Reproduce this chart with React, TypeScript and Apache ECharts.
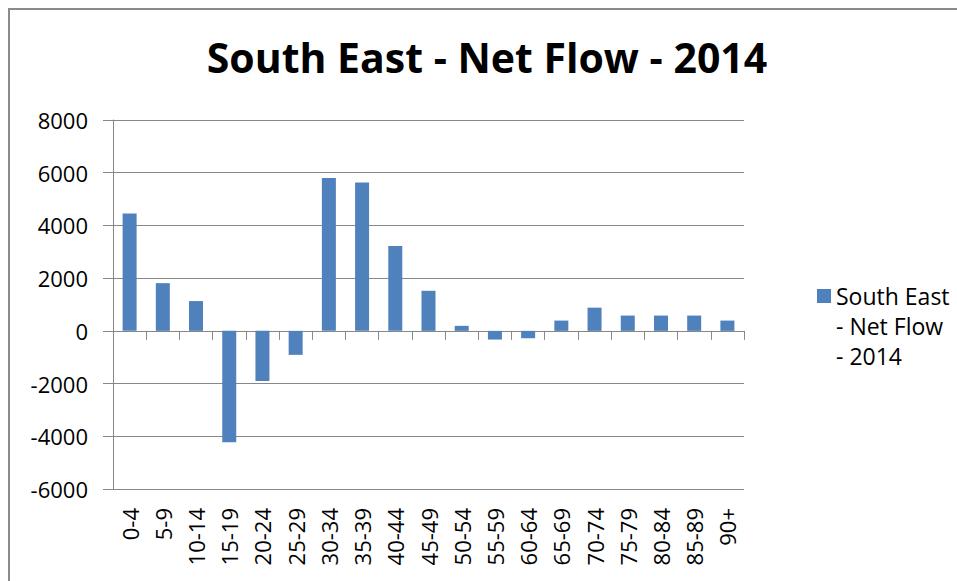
import React, { useEffect, useRef } from "react";
import * as echarts from "echarts";

const categories = ["0-4", "5-9", "10-14", "15-19", "20-24", "25-29", "30-34", "35-39", "40-44", "45-49", "50-54", "55-59", "60-64", "65-69", "70-74", "75-79", "80-84", "85-89", "90+"];
const netFlow2014 = [4450, 1810, 1130, -4230, -1900, -910, 5800, 5630, 3220, 1520, 190, -330, -280, 390, 880, 580, 580, 580, 390];
const seriesName = "South East - Net Flow - 2014";
const legendLines = ["South East", "- Net Flow", "- 2014"];
const titleText = "South East - Net Flow - 2014";
const yMin = -6000;
const yMax = 8000;
const yStep = 2000;

const FONT = "'Open Sans', 'Noto Sans', sans-serif";
const GRAY = "#878787";

export default function App() {
  const ref = useRef<HTMLDivElement>(null);
  useEffect(() => {
    if (!ref.current) return;
    const chart = echarts.init(ref.current, null, { renderer: "svg" });
    chart.setOption({
      animation: false,
      backgroundColor: "#ffffff",
      title: {
        text: titleText,
        left: 482,
        top: 31,
        textAlign: "center",
        textStyle: { fontFamily: FONT, fontSize: 41, fontWeight: "bold", color: "#000" },
      },
      legend: {
        left: 812,
        top: 216,
        itemWidth: 14,
        itemHeight: 14,
        itemGap: 0,
        icon: "rect",
        data: [seriesName],
        formatter: () => "\n\n" + legendLines.join("\n"),
        textStyle: { fontFamily: FONT, fontSize: 23, lineHeight: 30, color: "#000" },
      },
      graphic: [
        {
          type: "rect",
          shape: { x: 9, y: 9, width: 1000, height: 1000 },
          style: { fill: "none", stroke: "#8a8a8a", lineWidth: 2 },
          silent: true,
        },
      ],
      grid: { left: 113, right: 213, top: 120, bottom: 92, containLabel: false },
      xAxis: [
        {
          type: "category",
          data: categories,
          position: "bottom",
          axisLine: { show: false, onZero: false },
          axisTick: { show: false },
          axisLabel: { rotate: 90, margin: 19, fontFamily: FONT, fontSize: 22, color: "#000", interval: 0 },
          splitLine: { show: false },
        },
        {
          type: "category",
          data: categories,
          position: "bottom",
          axisLine: { show: true, onZero: true, lineStyle: { color: GRAY, width: 1 } },
          axisTick: { show: true, length: 9, interval: 0, lineStyle: { color: GRAY } },
          axisLabel: { show: false },
          splitLine: { show: false },
        },
      ],
      yAxis: {
        type: "value",
        min: yMin,
        max: yMax,
        interval: yStep,
        axisLine: { show: true, onZero: false, lineStyle: { color: GRAY, width: 1 } },
        axisTick: { show: true, length: 10, lineStyle: { color: GRAY } },
        axisLabel: {
          margin: 25,
          fontFamily: FONT,
          fontSize: 22,
          color: "#000",
          formatter: (v: number) => String(v),
        },
        splitLine: { show: true, lineStyle: { color: GRAY, width: 1 } },
      },
      series: [
        {
          name: seriesName,
          type: "bar",
          xAxisIndex: 0,
          data: netFlow2014,
          barWidth: 14,
          itemStyle: { color: "#4F81BD" },
        },
      ],
    });
    return () => chart.dispose();
  }, []);
  return (
    <div
      ref={ref}
      style={{ position: "absolute", left: 0, top: 0, width: 957, height: 581 }}
    />
  );
}
